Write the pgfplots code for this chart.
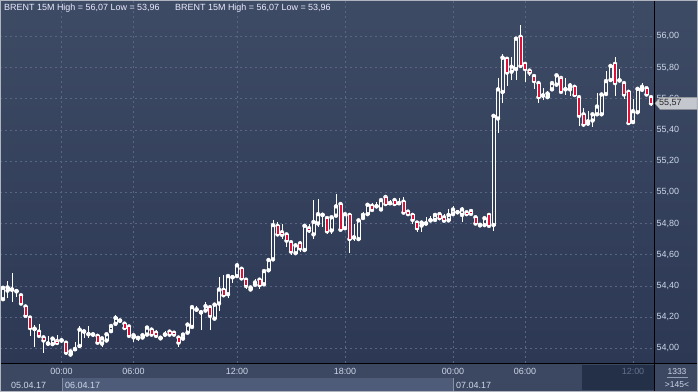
\documentclass[border=0pt]{standalone}
\usepackage{pgfplots}
\pgfplotsset{compat=1.18}
\usepackage{pgfplotstable}
\usepackage{fontspec}
\setmainfont{Liberation Sans}
\definecolor{bgtop}{RGB}{62,75,101}
\definecolor{bgbot}{RGB}{44,56,84}
\definecolor{gridc}{RGB}{88,102,132}
\definecolor{candred}{RGB}{222,18,56}
\definecolor{band}{RGB}{60,72,98}
\definecolor{bandhi}{RGB}{78,92,121}
\definecolor{darkbox}{RGB}{36,47,72}
\definecolor{lbl}{RGB}{205,215,232}
\definecolor{dimc}{RGB}{100,112,140}
\definecolor{framec}{RGB}{175,180,190}
\definecolor{tagc}{RGB}{196,199,206}

\pgfplotstableread{
i o h l c
0 54.315 54.400 54.310 54.388
1 54.370 54.430 54.320 54.390
2 54.375 54.480 54.300 54.378
3 54.367 54.380 54.330 54.365
4 54.340 54.345 54.280 54.287
5 54.268 54.270 54.205 54.208
6 54.197 54.200 54.080 54.130
7 54.124 54.152 54.008 54.126
8 54.107 54.156 54.078 54.080
9 54.070 54.072 53.970 54.050
10 54.030 54.080 54.028 54.031
11 54.027 54.070 54.025 54.062
12 54.047 54.085 54.020 54.034
13 54.050 54.060 54.035 54.051
14 54.036 54.040 53.960 53.972
15 53.960 53.982 53.958 53.980
16 53.994 54.040 53.992 53.995
17 54.015 54.140 54.012 54.120
18 54.107 54.110 54.068 54.108
19 54.090 54.140 54.068 54.091
20 54.088 54.100 54.075 54.089
21 54.080 54.082 54.034 54.036
22 54.030 54.066 54.010 54.064
23 54.050 54.092 54.048 54.090
24 54.110 54.155 54.108 54.143
25 54.157 54.215 54.155 54.195
26 54.177 54.180 54.175 54.178
27 54.158 54.160 54.128 54.130
28 54.140 54.142 54.078 54.080
29 54.070 54.086 54.040 54.084
30 54.066 54.072 54.045 54.067
31 54.069 54.086 54.067 54.084
32 54.088 54.135 54.086 54.133
33 54.120 54.122 54.086 54.088
34 54.100 54.115 54.065 54.080
35 54.064 54.070 54.062 54.068
36 54.088 54.110 54.085 54.089
37 54.107 54.118 54.086 54.088
38 54.100 54.102 54.078 54.088
39 54.069 54.071 54.010 54.036
40 54.062 54.090 54.060 54.088
41 54.100 54.154 54.098 54.152
42 54.137 54.270 54.130 54.264
43 54.248 54.270 54.240 54.249
44 54.230 54.245 54.120 54.231
45 54.242 54.300 54.235 54.270
46 54.264 54.266 54.120 54.208
47 54.190 54.290 54.180 54.280
48 54.287 54.460 54.240 54.377
49 54.375 54.470 54.338 54.340
50 54.347 54.465 54.320 54.463
51 54.455 54.465 54.420 54.456
52 54.463 54.550 54.455 54.532
53 54.510 54.512 54.446 54.448
54 54.440 54.445 54.380 54.400
55 54.377 54.400 54.370 54.390
56 54.407 54.445 54.405 54.422
57 54.440 54.445 54.380 54.405
58 54.410 54.500 54.405 54.495
59 54.500 54.580 54.495 54.566
60 54.570 54.820 54.565 54.790
61 54.785 54.810 54.728 54.730
62 54.744 54.800 54.700 54.727
63 54.730 54.732 54.650 54.690
64 54.680 54.682 54.600 54.620
65 54.610 54.665 54.600 54.660
66 54.673 54.685 54.620 54.640
67 54.630 54.795 54.615 54.785
68 54.770 54.800 54.740 54.755
69 54.730 54.950 54.700 54.810
70 54.800 54.960 54.780 54.860
71 54.855 54.870 54.780 54.856
72 54.835 54.837 54.735 54.750
73 54.755 54.842 54.730 54.840
74 54.850 54.990 54.845 54.910
75 54.925 54.927 54.755 54.760
76 54.770 54.862 54.760 54.860
77 54.855 54.857 54.610 54.700
78 54.710 54.800 54.690 54.711
79 54.700 54.822 54.698 54.820
80 54.835 54.873 54.833 54.855
81 54.860 54.930 54.852 54.920
82 54.913 54.930 54.877 54.887
83 54.910 54.935 54.900 54.911
84 54.890 54.955 54.885 54.950
85 54.970 54.985 54.920 54.925
86 54.930 54.952 54.925 54.931
87 54.950 54.965 54.915 54.925
88 54.930 54.963 54.920 54.931
89 54.940 54.970 54.858 54.870
90 54.876 54.882 54.850 54.860
91 54.855 54.857 54.795 54.823
92 54.806 54.808 54.748 54.770
93 54.787 54.808 54.748 54.806
94 54.800 54.840 54.795 54.801
95 54.820 54.845 54.815 54.821
96 54.823 54.857 54.820 54.855
97 54.860 54.870 54.825 54.834
98 54.840 54.860 54.816 54.818
99 54.820 54.890 54.815 54.855
100 54.860 54.910 54.850 54.890
101 54.872 54.875 54.868 54.873
102 54.855 54.905 54.810 54.890
103 54.872 54.875 54.850 54.860
104 54.880 54.882 54.860 54.862
105 54.840 54.842 54.798 54.800
106 54.788 54.794 54.786 54.792
107 54.790 54.836 54.788 54.834
108 54.855 54.857 54.783 54.785
109 54.790 55.492 54.750 55.490
110 55.473 55.730 55.380 55.660
111 55.643 55.885 55.570 55.863
112 55.856 55.858 55.680 55.767
113 55.773 55.870 55.720 55.805
114 55.790 55.987 55.720 55.985
115 55.997 56.070 55.795 55.810
116 55.823 55.825 55.710 55.790
117 55.780 55.782 55.745 55.767
118 55.745 55.750 55.660 55.713
119 55.700 55.702 55.570 55.610
120 55.620 55.670 55.590 55.621
121 55.610 55.648 55.605 55.633
122 55.660 55.710 55.655 55.700
123 55.690 55.757 55.680 55.750
124 55.733 55.745 55.635 55.644
125 55.660 55.735 55.625 55.661
126 55.660 55.700 55.620 55.685
127 55.676 55.678 55.615 55.624
128 55.610 55.612 55.425 55.490
129 55.500 55.540 55.420 55.434
130 55.440 55.520 55.435 55.455
131 55.460 55.505 55.420 55.500
132 55.500 55.635 55.495 55.550
133 55.500 55.635 55.495 55.627
134 55.630 55.780 55.620 55.713
135 55.720 55.825 55.705 55.810
136 55.823 55.870 55.615 55.700
137 55.717 55.790 55.705 55.718
138 55.700 55.702 55.600 55.627
139 55.644 55.646 55.442 55.444
140 55.450 55.600 55.440 55.520
141 55.513 55.665 55.510 55.663
142 55.657 55.700 55.640 55.676
143 55.667 55.669 55.615 55.627
144 55.610 55.612 55.555 55.570
}\candles

\pgfplotsset{candleaxis/.style={
  at={(0bp,29bp)}, anchor=south west,
  scale only axis, width=654bp, height=363bp,
  xmin=-0.667, xmax=144.667, ymin=53.9058, ymax=56.2327,
  axis line style={draw=none},
  major tick length=0pt,
  tick style={draw=none},
}}

\begin{document}
\begin{tikzpicture}
\useasboundingbox (0,0) rectangle (698bp,392bp);
% backgrounds
\shade[top color=bgtop, bottom color=bgbot] (0,29bp) rectangle (698bp,392bp);
\fill[band] (0,14bp) rectangle (698bp,29bp);
\fill[band] (0,0) rectangle (62bp,14bp);
\fill[bandhi] (62bp,0) rectangle (453bp,14bp);
\fill[band] (453bp,0) rectangle (698bp,14bp);
\fill[darkbox] (582bp,2bp) rectangle (654bp,27bp);
\draw[bandhi!70!white, line width=0.6bp] (62bp,0) -- (62bp,14bp);
\draw[band!60!white, line width=0.6bp] (453bp,0) -- (453bp,14bp);

\begin{axis}[candleaxis,
  xtick={13,29,52,76,100,116,140},
  xticklabels={00:00,06:00,12:00,18:00,00:00,06:00,\textcolor{dimc}{12:00}},
  ytick={54,54.2,54.4,54.6,54.8,55,55.2,55.4,55.6,55.8,56},
  yticklabel pos=right,
  grid=major,
  major grid style={gridc, dash pattern=on 2bp off 3bp, line width=0.7bp},
  /pgf/number format/assume math mode=true,
  xticklabel style={font=\fontsize{9}{10}\selectfont, text=lbl, anchor=base, inner sep=0pt, yshift=-11.3bp},
  yticklabel style={font=\fontsize{9}{10}\selectfont, text=lbl, anchor=west, inner sep=0pt, xshift=2.5bp,
    /pgf/number format/.cd, fixed, fixed zerofill, precision=2, use comma},
]
\addplot[white, only marks, mark=none,
  error bars/.cd, y dir=plus, y explicit, error mark=none,
  error bar style={white, line width=0.9bp, solid}]
  table[x=i, y expr={max(\thisrow{o},\thisrow{c})},
        y error plus expr={\thisrow{h}-max(\thisrow{o},\thisrow{c})}] {\candles};
\addplot[white, only marks, mark=none,
  error bars/.cd, y dir=minus, y explicit, error mark=none,
  error bar style={white, line width=0.9bp, solid}]
  table[x=i, y expr={min(\thisrow{o},\thisrow{c})},
        y error minus expr={min(\thisrow{o},\thisrow{c})-\thisrow{l}}] {\candles};
\coordinate (tag) at (axis cs:144.667,55.57);
\end{axis}

\begin{axis}[candleaxis, hide axis, ybar stacked, bar width=3bp]
\addplot[draw=none, fill=none] table[x=i, y expr={min(\thisrow{o},\thisrow{c})}] {\candles};
\addplot[draw=white, fill=candred, line width=0.9bp] table[x=i, y expr={max(\thisrow{o}-\thisrow{c},0)}] {\candles};
\addplot[draw=white, fill=none, line width=0.9bp] table[x=i, y expr={max(\thisrow{c}-\thisrow{o},0)}] {\candles};
\end{axis}

% separators
\draw[black, line width=1bp] (0,28.6bp) -- (698bp,28.6bp);
\draw[black, line width=1bp] (654.6bp,0) -- (654.6bp,392bp);
% price tag
\fill[tagc, draw=gray!80] (tag) ++(1bp,0) -- ++(5bp,6bp) -- ++(37bp,0) -- ++(0,-12bp) -- ++(-37bp,0) -- cycle;
\node[anchor=west, inner sep=0pt, font=\fontsize{9}{10}\selectfont, text=black!85] at ([xshift=5bp]tag) {55,57};
% titles
\node[anchor=base west, inner sep=0pt, font=\fontsize{9}{10}\selectfont, text=white!92!blue] at (4bp,381bp) {BRENT 15M High = 56,07 Low = 53,96};
\node[anchor=base west, inner sep=0pt, font=\fontsize{9}{10}\selectfont, text=white!92!blue] at (175bp,381bp) {BRENT 15M High = 56,07 Low = 53,96};
% dates
\node[anchor=base west, inner sep=0pt, font=\fontsize{9}{10}\selectfont, text=lbl] at (11bp,4bp) {05.04.17};
\node[anchor=base west, inner sep=0pt, font=\fontsize{9}{10}\selectfont, text=lbl] at (65bp,4bp) {06.04.17};
\node[anchor=base west, inner sep=0pt, font=\fontsize{9}{10}\selectfont, text=lbl] at (456bp,4bp) {07.04.17};
% corner
\node[anchor=base, inner sep=0pt, font=\fontsize{8.5}{10}\selectfont, text=lbl] at (677bp,17.7bp) {1333};
\draw[lbl!60!band, line width=0.6bp] (667bp,14.5bp) -- (688bp,14.5bp);
\node[anchor=base, inner sep=0pt, font=\fontsize{8.5}{10}\selectfont, text=lbl] at (677bp,4.5bp) {>145<};
% frame
\draw[framec, line width=1bp] (0.5bp,0.5bp) rectangle (697.5bp,391.5bp);
\end{tikzpicture}
\end{document}
